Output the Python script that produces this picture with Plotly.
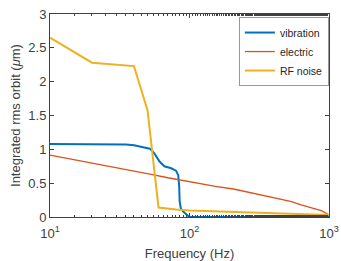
import plotly.graph_objects as go

# ---- data ----
vib_f = [10, 20, 28, 35, 40, 44, 48, 52, 56, 61, 66, 74, 80, 83, 84.4, 85, 86.6, 90, 95, 99, 200, 500, 1000]
vib_y = [1.08, 1.08, 1.08, 1.07, 1.06, 1.045, 1.03, 1.01, 0.94, 0.82, 0.75, 0.72, 0.685, 0.62, 0.45, 0.23, 0.13, 0.08, 0.04, 0.005, 0.0, 0.0, 0.0]

ele_f = [10, 20, 30, 44, 52, 70, 100, 150, 211, 300, 365, 450, 530, 632, 750, 879, 950, 1000]
ele_y = [0.915, 0.80, 0.73, 0.665, 0.635, 0.58, 0.52, 0.455, 0.41, 0.345, 0.31, 0.27, 0.232, 0.18, 0.14, 0.093, 0.06, 0.025]

rf_f = [10, 20, 40, 50, 60, 70, 80, 100, 200, 400, 700, 1000]
rf_y = [2.65, 2.28, 2.23, 1.58, 0.14, 0.12, 0.11, 0.095, 0.075, 0.06, 0.045, 0.03]

x_tickvals = [10, 100, 1000]
x_ticktext = ["10<sup>1</sup>", "10<sup>2</sup>", "10<sup>3</sup>"]
y_tickvals = [0, 0.5, 1, 1.5, 2, 2.5, 3]
y_ticktext = ["0", "0.5", "1", "1.5", "2", "2.5", "3"]

FONT = "Liberation Sans, Arial, sans-serif"
AX = "#404040"

fig = go.Figure()
fig.add_trace(go.Scatter(x=vib_f, y=vib_y, mode="lines", name="vibration",
                         line=dict(color="#0072BD", width=2)))
fig.add_trace(go.Scatter(x=ele_f, y=ele_y, mode="lines", name="electric",
                         line=dict(color="#D95319", width=1.3)))
fig.add_trace(go.Scatter(x=rf_f, y=rf_y, mode="lines", name="RF noise",
                         line=dict(color="#EDB120", width=2)))

fig.update_layout(
    width=341, height=261,
    margin=dict(l=50, r=12, t=14, b=44, autoexpand=False),
    paper_bgcolor="white", plot_bgcolor="white",
    font=dict(family=FONT, size=13, color="#404040"),
    showlegend=True,
    legend=dict(x=0.677, y=0.985, xanchor="left", yanchor="top",
                bgcolor="white", bordercolor="#999999", borderwidth=1,
                font=dict(family=FONT, size=10.5, color="#262626"),
                tracegroupgap=0, itemwidth=30),
    xaxis=dict(type="log", range=[1, 3], tickvals=x_tickvals, ticktext=x_ticktext,
               showgrid=False, zeroline=False, showline=True, linecolor=AX, linewidth=1,
               mirror="ticks", ticks="inside", ticklen=4, tickcolor=AX,
               ticklabeloverflow="allow", automargin=False, ticklabelstandoff=4,
               minor=dict(ticks="inside", ticklen=2, tickcolor=AX, showgrid=False),
               title=dict(text="Frequency (Hz)", font=dict(size=13), standoff=9),
               tickfont=dict(size=13)),
    yaxis=dict(range=[0, 3], tickvals=y_tickvals, ticktext=y_ticktext,
               showgrid=False, zeroline=False, showline=True, linecolor=AX, linewidth=1,
               mirror="ticks", ticks="inside", ticklen=4, tickcolor=AX, automargin=False,
               title=dict(text="Integrated rms orbit (<i>μ</i>m)", font=dict(size=13), standoff=4),
               tickfont=dict(size=13)),
)

fig.write_html("out.html", config={"displayModeBar": False},
               post_script="document.body.style.margin='0';document.body.style.overflow='hidden';")
